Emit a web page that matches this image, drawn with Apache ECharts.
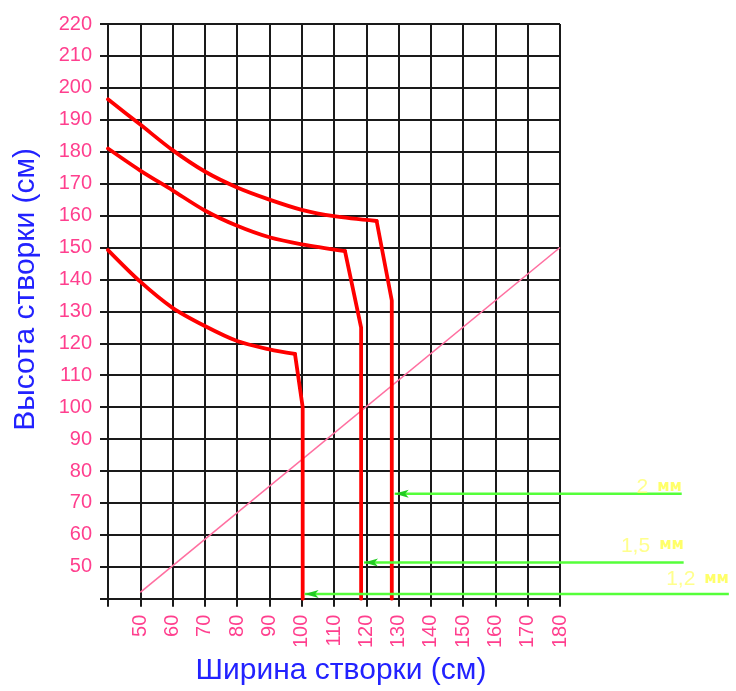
<!DOCTYPE html>
<html>
<head>
<meta charset="utf-8">
<script src="https://cdn.jsdelivr.net/npm/echarts@6/dist/echarts.min.js"></script>
<style>
html,body{margin:0;padding:0;background:#fff;}
#chart{width:736px;height:691px;}
</style>
</head>
<body>
<div id="chart"></div>
<script>
// ---- data ----
var xAxisTitle = 'Ширина створки (см)';
var yAxisTitle = 'Высота створки (см)';

// curved part (smooth) then the straight corner / vertical part
var curve1X = [40, 50, 60, 70, 80, 90, 100, 110, 123.2, 127.9, 127.9];
var curve1Y = [196.4, 188.5, 180.5, 173.8, 168.8, 165, 161.8, 159.8, 158.3, 133.4, 40];
var curve1Corner = 8;

var curve2X = [40, 50, 60, 70, 80, 90, 100, 113.4, 118.4, 118.4];
var curve2Y = [181, 174.1, 167.9, 161.6, 156.8, 153.2, 151, 148.9, 124.9, 40];
var curve2Corner = 7;

var curve3X = [40, 50, 60, 70, 80, 90, 97.9, 100.3, 100.3];
var curve3Y = [149.2, 139.3, 131.1, 125.4, 120.7, 118.1, 116.7, 100, 40];
var curve3Corner = 6;

var diagX = [50, 180];
var diagY = [42, 150];

var arrowNumbers = ['2', '1,5', '1,2'];
var arrowUnit = 'мм';
var arrowY = [74, 52.6, 42.8];
var arrowFromX = [217.7, 218.3, 232.3];
var arrowToX = [128.8, 119.3, 100.9];

// ---- chart ----
function pairs(xs, ys) { return xs.map(function (x, i) { return [x, ys[i]]; }); }

var gridLine = { color: '#1a1a1a', width: 2 };
var pink = '#ff3f8e';
var blue = '#2222ff';
var W = 736, plotLeft = 108, plotRight = 560;
var xMin = 40, xMax = 180;
// second (invisible) coordinate system with identical scale, extended to the right edge
var xMaxWide = xMin + (W - plotLeft) * (xMax - xMin) / (plotRight - plotLeft);

var series = [];
series.push({
  type: 'line', data: pairs(diagX, diagY), symbol: 'none', silent: true,
  lineStyle: { color: '#ff6fa0', width: 1.6 }, z: 3
});
var redStyle = { color: '#ff0000', width: 3.8, join: 'round', cap: 'round' };
[[curve1X, curve1Y, curve1Corner], [curve2X, curve2Y, curve2Corner], [curve3X, curve3Y, curve3Corner]].forEach(function (c) {
  var pts = pairs(c[0], c[1]);
  series.push({
    type: 'line', data: pts.slice(0, c[2] + 1), symbol: 'none', silent: true,
    smooth: 0.3, lineStyle: redStyle, z: 4
  });
  series.push({
    type: 'line', data: pts.slice(c[2]), symbol: 'none', silent: true,
    lineStyle: redStyle, z: 4
  });
});
var labelOffsets = [[0, 4], [0, -6], [0, -4]];
arrowY.forEach(function (y, i) {
  series.push({
    type: 'line', xAxisIndex: 1, yAxisIndex: 1, clip: false, silent: true,
    showSymbol: true, showAllSymbol: true,
    data: [
      { value: [arrowFromX[i], y], symbol: 'none' },
      { value: [arrowToX[i], y], symbol: 'arrow', symbolSize: [6, 14], symbolRotate: 90 }
    ],
    itemStyle: { color: '#22cc22' },
    lineStyle: { color: '#55ff3a', width: 2.5 }, z: 5
  });
  series.push({
    type: 'scatter', xAxisIndex: 1, yAxisIndex: 1, clip: false, silent: true, symbolSize: 0,
    data: [[arrowFromX[i], y]],
    label: {
      show: true, position: [0, 0], align: 'right', verticalAlign: 'bottom',
      offset: labelOffsets[i],
      formatter: '{n|' + arrowNumbers[i] + '}{u|' + arrowUnit + '}',
      rich: {
        n: { color: '#ffff70', fontSize: 21, fontFamily: 'Liberation Sans', padding: [0, 9, 0, 0] },
        u: { color: '#ffff44', fontSize: 15, fontWeight: 'bold', fontFamily: 'DejaVu Sans', padding: [0, 0, 1, 0] }
      }
    }, z: 6
  });
});

var chart = echarts.init(document.getElementById('chart'), null, { renderer: 'canvas' });
chart.setOption({
  animation: false,
  backgroundColor: '#ffffff',
  grid: [
    { left: plotLeft, right: W - plotRight, top: 24, bottom: 88, containLabel: false },
    { left: plotLeft, right: 0, top: 24, bottom: 88, containLabel: false }
  ],
  xAxis: [{
    type: 'value', min: xMin, max: xMax, interval: 10,
    name: xAxisTitle, nameLocation: 'middle', nameGap: 52,
    nameTextStyle: { color: blue, fontSize: 30, fontFamily: 'Liberation Sans', padding: [0, 0, 0, 14] },
    axisLine: { show: true, lineStyle: gridLine },
    axisTick: { show: true, length: 8, lineStyle: gridLine },
    splitLine: { show: true, lineStyle: gridLine },
    axisLabel: {
      rotate: 90, margin: 16, color: pink, fontSize: 20, fontFamily: 'Liberation Sans',
      formatter: function (v) { return v === 40 ? '' : String(v); }
    }
  }, {
    type: 'value', gridIndex: 1, min: xMin, max: xMaxWide, show: false
  }],
  yAxis: [{
    type: 'value', min: 40, max: 220, interval: 10,
    name: yAxisTitle, nameLocation: 'middle', nameGap: 67,
    nameTextStyle: { color: blue, fontSize: 30, fontFamily: 'Liberation Sans', padding: [0, 0, 0, 44] },
    axisLine: { show: true, lineStyle: gridLine },
    axisTick: { show: true, length: 8, lineStyle: gridLine },
    splitLine: { show: true, lineStyle: gridLine },
    axisLabel: {
      margin: 16, color: pink, fontSize: 20, fontFamily: 'Liberation Sans',
      formatter: function (v) { return v === 40 ? '' : String(v); }
    }
  }, {
    type: 'value', gridIndex: 1, min: 40, max: 220, show: false
  }],
  series: series
});
</script>
</body>
</html>
